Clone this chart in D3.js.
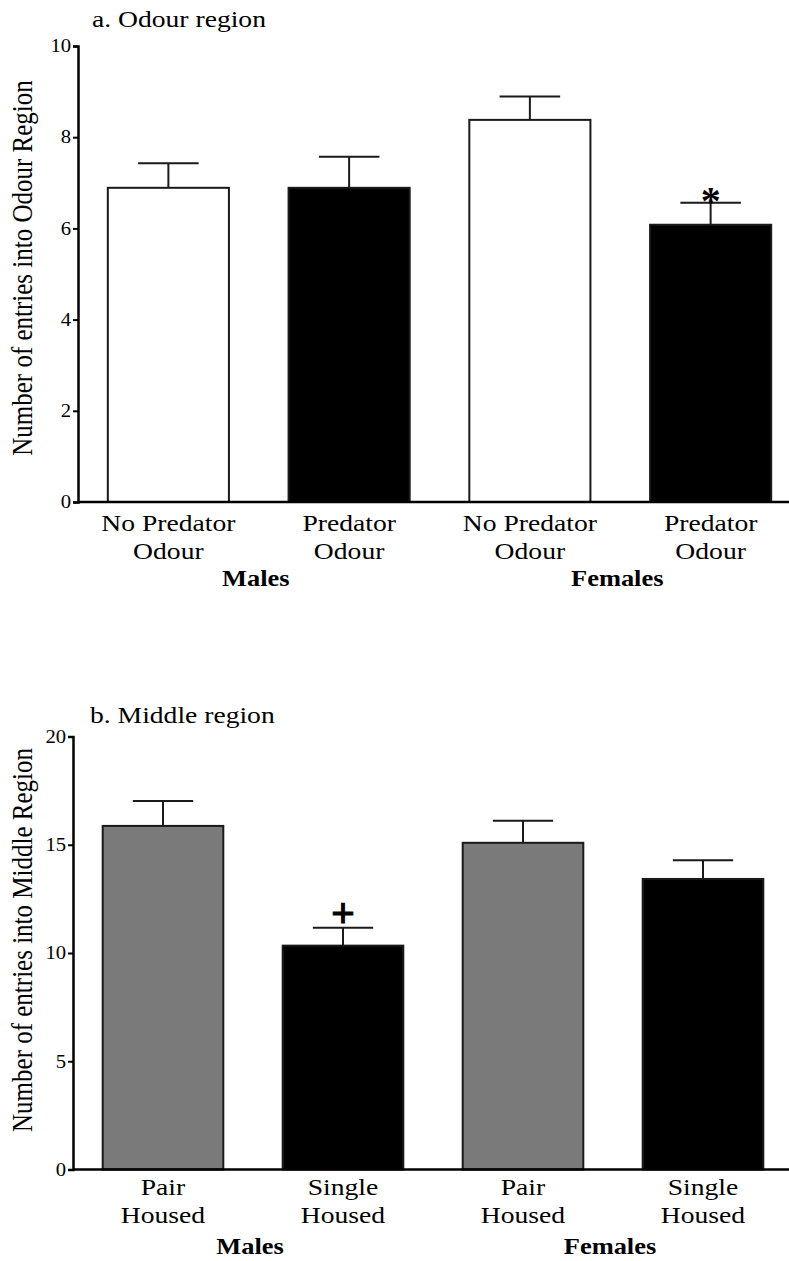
<!DOCTYPE html>
<html>
<head>
<meta charset="utf-8">
<script src="https://cdn.jsdelivr.net/npm/d3@7"></script>
<style>
  body { margin: 0; background: #fff; }
  svg { display: block; }
  svg text { font-family: "Liberation Serif", "DejaVu Serif", serif; }
</style>
</head>
<body>
<svg id="chart" width="789" height="1261"></svg>
<script>
// panel a: odour region
const odourCats = ["No Predator|Odour", "Predator|Odour", "No Predator |Odour ", "Predator |Odour "];
const odourMeans = [6.89, 6.89, 8.38, 6.08];
const odourSem = [0.54, 0.68, 0.51, 0.48];
const odourFill = ["#fff", "#000", "#fff", "#000"];
const odourMarks = ["", "", "", "*"];
const odourTicks = [0, 2, 4, 6, 8, 10];

// panel b: middle region
const middleCats = ["Pair|Housed", "Single|Housed", "Pair |Housed ", "Single |Housed "];
const middleMeans = [15.87, 10.34, 15.09, 13.42];
const middleSem = [1.15, 0.83, 1.02, 0.86];
const middleFill = ["#7a7a7a", "#000", "#7a7a7a", "#000"];
const middleMarks = ["", "+", "", ""];
const middleTicks = [0, 5, 10, 15, 20];

const groups = ["Males", "Females"];

const SERIF = "Liberation Serif, DejaVu Serif, serif";
const SX = 1.15; // the source figure is a little wider than tall

const svg = d3.select("#chart");

function label(g, x, y, str, size, bold, anchor) {
  return g.append("text")
    .attr("transform", `translate(${x},${y}) scale(${SX},1)`)
    .attr("text-anchor", anchor || "middle")
    .attr("font-family", SERIF)
    .attr("font-size", size)
    .attr("font-weight", bold ? "bold" : "normal")
    .attr("fill", "#000")
    .text(str);
}

function drawPanel(opt) {
  const x = d3.scaleBand().domain(opt.cats).range(opt.xRange).paddingInner(0.33).paddingOuter(0.165);
  const y = d3.scaleLinear().domain(opt.yDomain).range(opt.yRange);
  const g = svg.append("g");

  // bars
  g.selectAll("rect.bar")
    .data(opt.cats)
    .enter()
    .append("rect")
    .attr("class", "bar")
    .attr("x", (d) => x(d))
    .attr("width", x.bandwidth())
    .attr("y", (d, i) => y(opt.means[i]))
    .attr("height", (d, i) => y(0) - y(opt.means[i]))
    .attr("fill", (d, i) => opt.fill[i])
    .attr("stroke", "#1a1a1a")
    .attr("stroke-width", 2);

  // error bars (upper only)
  opt.cats.forEach((c, i) => {
    const cx = x(c) + x.bandwidth() / 2;
    const top = y(opt.means[i] + opt.sem[i]);
    g.append("line")
      .attr("x1", cx).attr("x2", cx)
      .attr("y1", y(opt.means[i])).attr("y2", top)
      .attr("stroke", "#1a1a1a").attr("stroke-width", 2);
    g.append("line")
      .attr("x1", cx - x.bandwidth() / 4).attr("x2", cx + x.bandwidth() / 4)
      .attr("y1", top).attr("y2", top)
      .attr("stroke", "#1a1a1a").attr("stroke-width", 2);
    const m = opt.marks[i];
    if (m) {
      g.append("text")
        .attr("x", cx)
        .attr("y", m === "*" ? top + 11 : top - 1)
        .attr("text-anchor", "middle")
        .attr("font-family", "DejaVu Sans, sans-serif")
        .attr("font-weight", "bold")
        .attr("font-size", m === "*" ? 40 : 42)
        .attr("stroke", "#000")
        .attr("stroke-width", m === "*" ? 0 : 1)
        .text(m);
    }
  });

  // y axis
  const yAxis = g.append("g")
    .attr("transform", `translate(${opt.xRange[0]},0)`)
    .call(d3.axisLeft(y).tickValues(opt.ticks).tickSize(5).tickPadding(1));
  yAxis.attr("font-family", SERIF);
  yAxis.select(".domain").attr("stroke", "#000").attr("stroke-width", 2.5);
  yAxis.selectAll(".tick line").attr("stroke", "#000").attr("stroke-width", 2);
  yAxis.selectAll(".tick text")
    .attr("transform", `scale(${SX},1)`)
    .attr("font-family", SERIF)
    .attr("font-size", 18)
    .attr("fill", "#000");

  // x baseline
  g.append("line")
    .attr("x1", opt.xRange[0]).attr("x2", opt.xRange[1])
    .attr("y1", y(0)).attr("y2", y(0))
    .attr("stroke", "#000").attr("stroke-width", 2.5);

  // category labels (two lines)
  opt.cats.forEach((c) => {
    const cx = x(c) + x.bandwidth() / 2;
    c.split("|").map((s) => s.trim()).forEach((ln, k) => {
      label(g, cx, y(0) + opt.catDy + k * 28, ln, 24, false);
    });
  });

  // group labels
  groups.forEach((gr, k) => {
    const c0 = opt.cats[k * 2], c1 = opt.cats[k * 2 + 1];
    const cx = (x(c0) + x(c1) + x.bandwidth()) / 2 - 3;
    label(g, cx, y(0) + opt.groupDy, gr, 23, true);
  });

  // panel title
  label(g, opt.titleX, opt.titleY, opt.title, 24, false, "start");

  // y label
  const ym = (opt.yRange[0] + opt.yRange[1]) / 2;
  g.append("text")
    .attr("transform", `translate(32,${ym + opt.yLabelShift}) scale(${SX},1) rotate(-90)`)
    .attr("text-anchor", "middle")
    .attr("font-family", SERIF)
    .attr("font-size", 25)
    .attr("fill", "#000")
    .text(opt.yLabel);
}

drawPanel({
  cats: odourCats, means: odourMeans, sem: odourSem, fill: odourFill, marks: odourMarks,
  ticks: odourTicks, yDomain: [0, 10], yRange: [502, 46], xRange: [78, 801],
  catDy: 29, groupDy: 84,
  title: "a. Odour region", titleX: 92, titleY: 27,
  yLabel: "Number of entries into Odour Region", yLabelShift: -6
});

drawPanel({
  cats: middleCats, means: middleMeans, sem: middleSem, fill: middleFill, marks: middleMarks,
  ticks: middleTicks, yDomain: [0, 20], yRange: [1169.5, 736.5], xRange: [73, 793],
  catDy: 25, groupDy: 84,
  title: "b. Middle region", titleX: 90, titleY: 723,
  yLabel: "Number of entries into Middle Region", yLabelShift: -13
});
</script>
</body>
</html>
